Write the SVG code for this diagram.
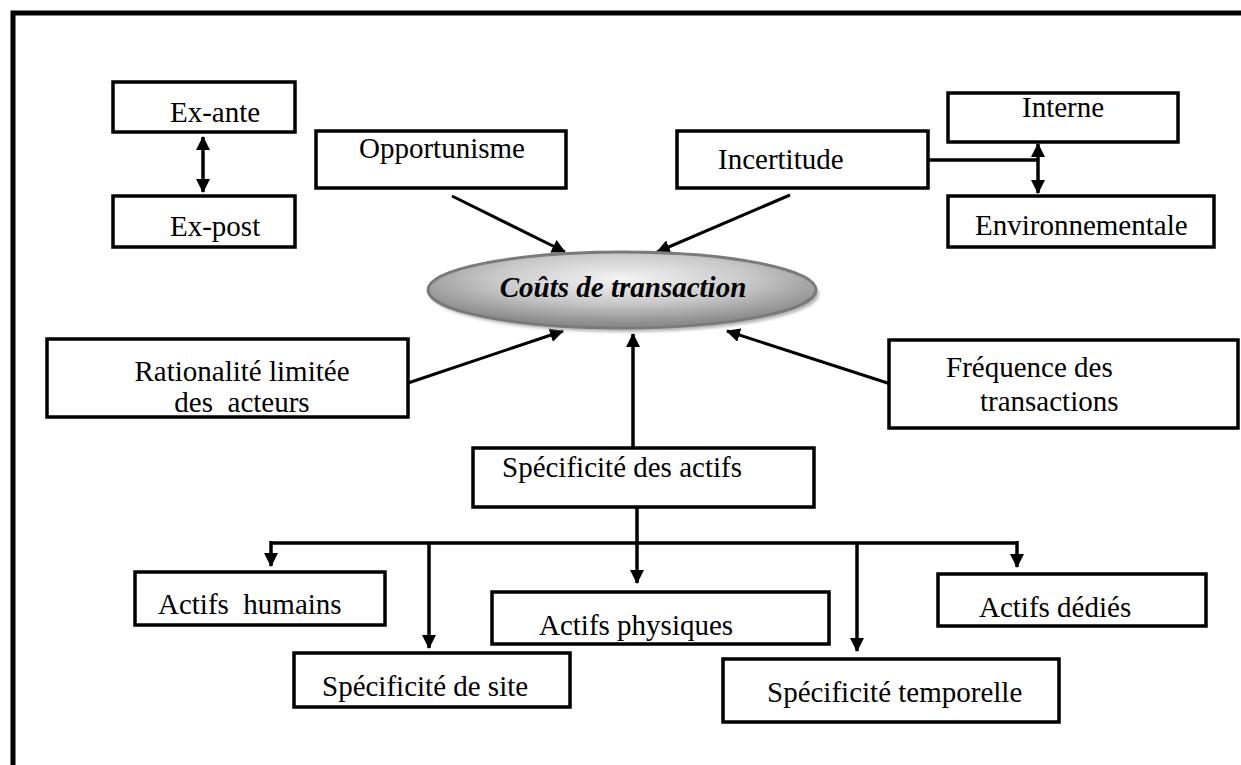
<svg xmlns="http://www.w3.org/2000/svg" width="1241" height="765" viewBox="0 0 1241 765">
  <style>
    .box { fill: #ffffff; stroke: #000000; stroke-width: 3.5; }
    .lbl { font-family: "Liberation Serif", "Times New Roman", serif; font-size: 29px; fill: #000000; }
    .wire { fill: none; stroke: #000000; stroke-width: 3.5; }
    .thin { fill: none; stroke: #000000; stroke-width: 3; }
    .arr { marker-end: url(#head); }
    .both { marker-start: url(#head); marker-end: url(#head); }
  </style>
  <defs>
    <marker id="head" viewBox="0 0 14 14" refX="13" refY="7" markerWidth="14" markerHeight="14" markerUnits="userSpaceOnUse" orient="auto-start-reverse">
      <path d="M0,0 L14,7 L0,14 z" fill="#000000"/>
    </marker>
    <radialGradient id="ovalFill" cx="0.5" cy="0.35" r="0.6">
      <stop offset="0" stop-color="#f4f4f4"/>
      <stop offset="0.55" stop-color="#c8c8c8"/>
      <stop offset="1" stop-color="#8c8c8c"/>
    </radialGradient>
    <filter id="soft" x="-10%" y="-30%" width="120%" height="160%">
      <feGaussianBlur stdDeviation="1.5"/>
    </filter>
  </defs>

  <!-- outer frame (left and top sides) -->
  <path d="M13,765 V13 H1241" fill="none" stroke="#000000" stroke-width="5"/>

  <!-- connectors -->
  <g id="connectors">
    <!-- ex-ante / ex-post -->
    <line class="wire both" x1="203" y1="137" x2="203" y2="192"/>
    <!-- incertitude branch -->
    <line class="wire" x1="928" y1="160" x2="1038" y2="160"/>
    <line class="wire both" x1="1038" y1="144" x2="1038" y2="193"/>
    <!-- into the central oval -->
    <line class="thin arr" x1="452" y1="196" x2="565" y2="252"/>
    <line class="thin arr" x1="790" y1="195" x2="657" y2="252"/>
    <line class="thin arr" x1="408" y1="383" x2="563" y2="331"/>
    <line class="thin arr" x1="903" y1="388" x2="727" y2="331"/>
    <line class="wire arr" x1="633" y1="448" x2="633" y2="334"/>
    <!-- asset specificity distribution -->
    <line class="wire arr" x1="637" y1="507" x2="637" y2="583"/>
    <line class="wire" x1="271" y1="543" x2="1017" y2="543"/>
    <line class="wire arr" x1="271" y1="541" x2="271" y2="566"/>
    <line class="wire arr" x1="429" y1="543" x2="429" y2="648"/>
    <line class="wire arr" x1="857" y1="543" x2="857" y2="651"/>
    <line class="wire arr" x1="1017" y1="541" x2="1017" y2="567"/>
  </g>

  <g id="ex-ante">
    <rect class="box" x="113" y="82" width="182" height="50"/>
    <text class="lbl" x="170" y="122">Ex-ante</text>
  </g>
  <g id="ex-post">
    <rect class="box" x="113" y="196" width="182" height="51"/>
    <text class="lbl" x="170" y="236">Ex-post</text>
  </g>
  <g id="opportunisme">
    <rect class="box" x="316" y="131" width="250" height="57"/>
    <text class="lbl" x="359" y="158">Opportunisme</text>
  </g>
  <g id="incertitude">
    <rect class="box" x="677" y="131" width="251" height="57"/>
    <text class="lbl" x="718" y="169">Incertitude</text>
  </g>
  <g id="interne">
    <rect class="box" x="948" y="93" width="230" height="49"/>
    <text class="lbl" x="1022" y="117">Interne</text>
  </g>
  <g id="environnementale">
    <rect class="box" x="948" y="196" width="266" height="51"/>
    <text class="lbl" x="975" y="235">Environnementale</text>
  </g>

  <g id="couts-de-transaction">
    <ellipse cx="625" cy="294" rx="194" ry="38" fill="#b5b5b5" filter="url(#soft)"/>
    <ellipse cx="622" cy="290" rx="194" ry="38" fill="url(#ovalFill)" stroke="#7a7a7a" stroke-width="3"/>
    <text x="623" y="297" text-anchor="middle" font-family="Liberation Serif, Times New Roman, serif" font-size="29" font-weight="bold" font-style="italic" fill="#000000">Coûts de transaction</text>
  </g>

  <g id="rationalite">
    <rect class="box" x="47" y="339" width="361" height="78"/>
    <text class="lbl" x="242" y="381" text-anchor="middle">Rationalité limitée</text>
    <text class="lbl" x="242" y="412" text-anchor="middle" xml:space="preserve">des  acteurs</text>
  </g>
  <g id="frequence">
    <rect class="box" x="889" y="340" width="349" height="88"/>
    <text class="lbl" x="946" y="377">Fréquence des</text>
    <text class="lbl" x="980" y="411">transactions</text>
  </g>
  <g id="specificite-actifs">
    <rect class="box" x="473" y="448" width="341" height="59"/>
    <text class="lbl" x="502" y="477">Spécificité des actifs</text>
  </g>

  <g id="actifs-humains">
    <rect class="box" x="135" y="572" width="250" height="53"/>
    <text class="lbl" x="158" y="614" xml:space="preserve">Actifs  humains</text>
  </g>
  <g id="specificite-site">
    <rect class="box" x="294" y="653" width="276" height="54"/>
    <text class="lbl" x="322" y="696">Spécificité de site</text>
  </g>
  <g id="actifs-physiques">
    <rect class="box" x="492" y="592" width="337" height="52"/>
    <text class="lbl" x="539" y="635">Actifs physiques</text>
  </g>
  <g id="specificite-temporelle">
    <rect class="box" x="723" y="659" width="336" height="63"/>
    <text class="lbl" x="767" y="702">Spécificité temporelle</text>
  </g>
  <g id="actifs-dedies">
    <rect class="box" x="938" y="574" width="268" height="52"/>
    <text class="lbl" x="979" y="617">Actifs dédiés</text>
  </g>
</svg>
